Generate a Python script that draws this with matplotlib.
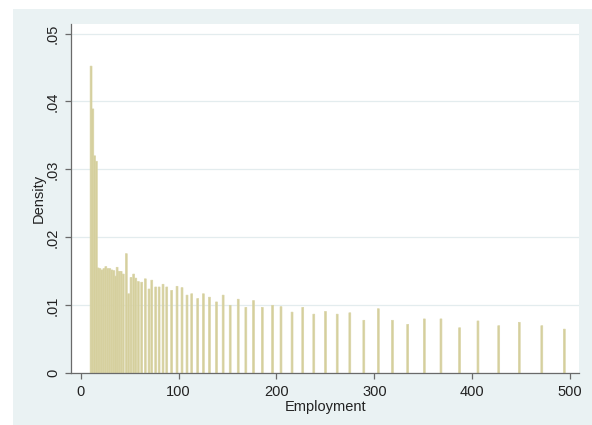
import matplotlib
matplotlib.use("Agg")
import matplotlib.pyplot as plt
from matplotlib.patches import Rectangle

# Histogram bins (employment value at bar centre) and densities
bin_centers = [
    10.6, 12.4, 14.2, 16.0, 17.8, 19.7, 21.7, 23.7, 25.7, 27.8, 29.8, 31.9,
    33.9, 35.6, 37.2, 39.2, 41.3, 43.5, 46.6, 49.0, 51.4, 54.1, 56.3, 58.9,
    62.3, 66.0, 69.8, 72.6, 76.6, 80.1, 84.1, 87.9, 92.9, 98.4, 103.5, 108.6,
    113.4, 119.5, 125.3, 131.5, 138.7, 145.5, 152.7, 160.9, 168.7, 176.5,
    185.5, 196.0, 204.6, 215.9, 226.8, 238.1, 250.0, 262.0, 274.9, 289.2,
    304.0, 318.4, 334.0, 351.0, 368.0, 387.0, 405.8, 427.0, 448.0, 471.0, 494.0,
]
density = [
    0.0452, 0.0389, 0.0320, 0.0312, 0.0155, 0.0154, 0.0152, 0.0154, 0.0157, 0.0154,
    0.0154, 0.0152, 0.0151, 0.0143, 0.0156, 0.0150, 0.0150, 0.0146, 0.0176, 0.0117,
    0.0141, 0.0146, 0.0140, 0.0135, 0.0134, 0.0139, 0.0124, 0.0137, 0.0127, 0.0127,
    0.0131, 0.0127, 0.0122, 0.0128, 0.0126, 0.0115, 0.0117, 0.0110, 0.0117, 0.0112,
    0.0105, 0.0115, 0.0100, 0.0109, 0.0097, 0.0107, 0.0097, 0.0100, 0.0098, 0.0090,
    0.0097, 0.0087, 0.0091, 0.0087, 0.0089, 0.0078, 0.0095, 0.0078, 0.0072, 0.0080,
    0.0080, 0.0067, 0.0077, 0.0070, 0.0075, 0.0070, 0.0065,
]
x_ticks = [0, 100, 200, 300, 400, 500]
x_tick_labels = ["0", "100", "200", "300", "400", "500"]
y_ticks = [0, 0.01, 0.02, 0.03, 0.04, 0.05]
y_tick_labels = ["0", ".01", ".02", ".03", ".04", ".05"]

plt.rcParams["font.family"] = ["Liberation Sans", "DejaVu Sans"]

W, H = 592, 425
fig = plt.figure(figsize=(W / 100, H / 100), dpi=100, facecolor="white")
fig.patches.append(Rectangle((13 / W, 0), 1 - 13 / W, (H - 9) / H,
                             transform=fig.transFigure, facecolor="#EAF2F3",
                             edgecolor="none", zorder=-5))

left, right, top, bottom = 71, 579.3, 24, 373.3
ax = fig.add_axes([left / W, 1 - bottom / H, (right - left) / W, (bottom - top) / H])
ax.set_facecolor("white")

ax.bar(bin_centers, density, width=1.9, color="#D5CF9C", edgecolor="#D9D4A6",
       linewidth=0.5, zorder=2, snap=False)

ax.set_xlim(-9.9, 509.3)
ax.set_ylim(0, 0.0514)
ax.set_xticks(x_ticks)
ax.set_xticklabels(x_tick_labels)
ax.set_yticks(y_ticks)
ax.set_yticklabels(y_tick_labels, rotation=90, va="center")

ax.yaxis.grid(True, color="#E3ECEE", linewidth=0.9, zorder=0)
ax.set_axisbelow(True)

for s in ("top", "right"):
    ax.spines[s].set_visible(False)
for s in ("left", "bottom"):
    ax.spines[s].set_color("#6A6A6A")
    ax.spines[s].set_linewidth(0.9)

ax.tick_params(axis="both", direction="out", length=4.5, width=0.9,
               color="#6A6A6A", labelsize=10.5, labelcolor="#222222", pad=4)
ax.tick_params(axis="y", pad=3.5)

ax.set_xlabel("Employment", fontsize=10.5, color="#222222", labelpad=1)
ax.set_ylabel("Density", fontsize=10.5, color="#222222", labelpad=0)

fig.savefig("out.png", dpi=100, facecolor=fig.get_facecolor())
